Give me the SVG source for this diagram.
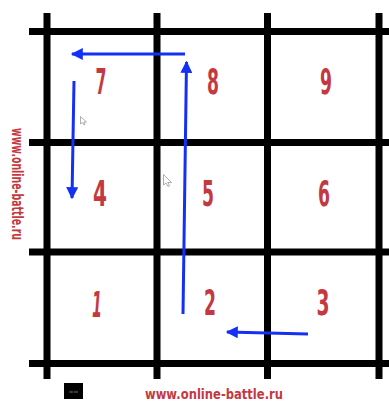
<svg xmlns="http://www.w3.org/2000/svg" width="389" height="402" viewBox="0 0 389 402">
<style>
.grid{stroke:#000;stroke-width:7;fill:none}
.num{font-family:"DejaVu Sans",sans-serif;font-weight:bold;font-size:36px;fill:#c4393f;text-anchor:middle}
.site{font-family:"DejaVu Sans",sans-serif;font-weight:bold;fill:#c4393f}
.arr{stroke:#1530f5;stroke-width:3;fill:none;marker-end:url(#ah)}
.cur{fill:#fff;stroke:#999;stroke-width:0.8}
</style>
<defs>
<marker id="ah" viewBox="0 0 10 10" refX="9" refY="5" markerWidth="5.5" markerHeight="4" orient="auto" markerUnits="strokeWidth">
<path d="M0,0 L10,5 L0,10 Z" fill="#1530f5"/>
</marker>
</defs>
<rect width="389" height="402" fill="#fff"/>
<g id="grid">
<line class="grid" x1="29" y1="31.5" x2="389" y2="31.5"/>
<line class="grid" x1="29" y1="142.5" x2="389" y2="142.5"/>
<line class="grid" x1="29" y1="252" x2="389" y2="252"/>
<line class="grid" x1="29" y1="363.5" x2="389" y2="363.5"/>
<line class="grid" x1="47" y1="13" x2="47" y2="379"/>
<line class="grid" x1="157" y1="13" x2="157" y2="379"/>
<line class="grid" x1="267.5" y1="13" x2="267.5" y2="379"/>
<line class="grid" x1="379" y1="13" x2="379" y2="379"/>
</g>
<g id="n7"><text class="num" x="101" y="94" textLength="11" lengthAdjust="spacingAndGlyphs">7</text></g>
<g id="n8"><text class="num" x="213" y="94" textLength="12" lengthAdjust="spacingAndGlyphs">8</text></g>
<g id="n9"><text class="num" x="326" y="94" textLength="12" lengthAdjust="spacingAndGlyphs">9</text></g>
<g id="n4"><text class="num" x="100" y="206" textLength="14" lengthAdjust="spacingAndGlyphs">4</text></g>
<g id="n5"><text class="num" x="208" y="206" textLength="12" lengthAdjust="spacingAndGlyphs">5</text></g>
<g id="n6"><text class="num" x="324" y="206" textLength="12" lengthAdjust="spacingAndGlyphs">6</text></g>
<g id="n1"><text class="num" x="97" y="317" textLength="10" lengthAdjust="spacingAndGlyphs" font-style="italic">1</text></g>
<g id="n2"><text class="num" x="210" y="315" textLength="12" lengthAdjust="spacingAndGlyphs">2</text></g>
<g id="n3"><text class="num" x="323" y="315" textLength="13" lengthAdjust="spacingAndGlyphs">3</text></g>
<g id="connectors">
<line class="arr" x1="185" y1="54" x2="72" y2="54"/>
<line class="arr" x1="74" y1="81" x2="72" y2="198"/>
<line class="arr" x1="183" y1="314" x2="186.5" y2="62"/>
<line class="arr" x1="308" y1="334" x2="227" y2="332"/>
</g>
<g id="cursors">
<path class="cur" d="M80.5,116.5 L80.5,124 L82.5,122.5 L84,125 L85,124.5 L83.8,122 L86.5,122 Z"/>
<path class="cur" d="M163.5,174.5 L163.5,185 L166,183 L168,186.5 L169.5,185.8 L167.8,182.5 L171.5,182.5 Z"/>
</g>
<g id="site-left"><text class="site" font-size="15" transform="translate(12,128) rotate(90)" textLength="112" lengthAdjust="spacingAndGlyphs">www.online-battle.ru</text></g>
<g id="site-bottom"><text class="site" font-size="14" x="145" y="399" textLength="138" lengthAdjust="spacingAndGlyphs">www.online-battle.ru</text></g>
<g id="clock">
<rect x="64" y="383" width="19" height="16" fill="#000"/>
<text x="73.5" y="392.5" font-family="DejaVu Sans,sans-serif" font-size="3" fill="#999" text-anchor="middle">00:00</text>
</g>
</svg>
